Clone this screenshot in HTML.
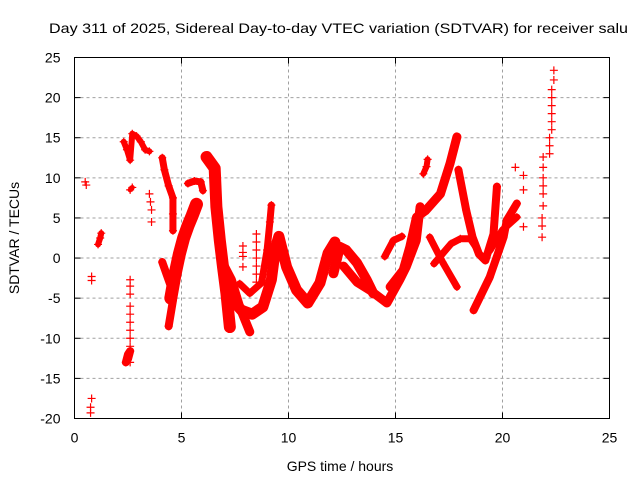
<!DOCTYPE html>
<html><head><meta charset="utf-8"><style>
body{margin:0;background:#fff}
svg{display:block;font-family:"Liberation Sans",sans-serif}
</style></head><body>
<svg id="chart" width="640" height="480" viewBox="0 0 640 480">
<rect width="640" height="480" fill="#fff"/>
<text x="49" y="33" font-size="14" textLength="579" lengthAdjust="spacingAndGlyphs" fill="#000">Day 311 of 2025, Sidereal Day-to-day VTEC variation (SDTVAR) for receiver salu</text>
<g id="grid"></g>
<g id="marks"></g>
<g id="axes"></g>
<text x="340" y="471" font-size="14" text-anchor="middle">GPS time / hours</text>
<text transform="translate(19,238) rotate(-90)" font-size="14" text-anchor="middle">SDTVAR / TECUs</text>
</svg>
<script>
const xTicks=[0,5,10,15,20,25];
const yTicks=[25,20,15,10,5,0,-5,-10,-15,-20];
// tracks: [hour, TECU]
const trkA=[[0.5,9.5],[0.55,9.1]];
const trkB=[[0.8,-2.3],[0.8,-2.8]];
const trkC=[[0.8,-17.5],[0.75,-18.6],[0.75,-19.3]];
const trkD=[[1.1,1.7],[1.2,2.5],[1.25,3.1]];
const trkE=[[2.4,-13],[2.5,-12],[2.6,-11.6],[2.5,-12.6]];
const trkF=[[2.6,-13],[2.6,-11],[2.6,-10],[2.6,-9],[2.6,-8],[2.6,-7],[2.6,-6],[2.6,-4.5],[2.6,-3.5],[2.6,-2.7]];
const trkG=[[2.3,14.5],[2.45,13.5],[2.6,12.2],[2.7,15.5],[2.9,15.2],[3.1,14.5],[3.3,13.5],[3.5,13.3]];
const trkH=[[2.6,8.5],[2.7,8.8]];
const trkI=[[3.5,8],[3.55,7],[3.6,6],[3.6,4.5]];
const trkJ=[[4.1,12.5],[4.2,11],[4.4,9],[4.6,7.5],[4.6,5.5],[4.6,3.4]];
const trkK=[[4.1,-0.5],[4.3,-2],[4.5,-3.5],[4.6,-5.3],[4.4,-8.5]];
const trkL=[[4.5,-5],[4.7,-2],[4.9,0.5],[5.1,2.5],[5.3,4],[5.5,5.3],[5.7,6.7]];
const trkM=[[5.3,9.3],[5.6,9.6],[5.9,9.5],[6.0,8.4]];
const trkN=[[6.17,12.6],[6.55,11.2],[6.63,6.4],[6.79,2.2],[6.94,-1.1],[7.1,-4.4],[7.26,-8.6]];
const trkO=[[7.0,-1],[7.33,-2.7],[7.72,-6.1],[8.19,-9.2]];
const trkP=[[7.3,-5],[7.8,-6.5],[8.3,-7],[8.8,-6.1],[9.2,-2.7],[9.4,1.4],[9.55,2.7],[9.91,-1.1],[10.38,-4],[10.9,-5.6],[11.47,-3.1],[11.85,0.6],[12.17,2]];
const trkQ=[[7.72,-3.2],[8.19,-4.4],[8.74,-3.1],[9.0,1],[9.13,4.5],[9.2,6.6]];
const trkR=[[8.5,-3],[8.5,-2],[8.5,-1],[8.5,0],[8.5,1],[8.5,2],[8.5,3]];
const trkS=[[7.87,1.5],[7.87,0.7],[7.87,0.2],[7.87,-1.1]];
const trkT=[[12.1,-1.9],[12.4,1.4],[12.7,1],[13.2,-0.6],[13.65,-2.7],[13.96,-4.4]];
const trkU=[[12.57,-1],[13.2,-3],[13.8,-4],[14.6,-5.6],[15.2,-2.7],[15.5,-1.1],[15.97,2.2],[16.15,6.4]];
const trkV=[[14.5,0.2],[14.9,2.2],[15.3,2.7]];
const trkW=[[14.75,-3.6],[15.36,-1.5],[15.67,1.4],[15.98,5.1],[16.4,5.9],[17.1,8],[17.55,11.8],[17.87,15.1]];
const trkX=[[16.3,10.5],[16.45,11.4],[16.5,12.3]];
const trkY=[[17.94,11],[18.3,6],[18.6,2.6],[18.9,0.5],[19.2,-0.3],[19.58,3],[19.74,8.9]];
const trkZ=[[16.6,2.6],[17.2,-0.5],[17.87,-3.6]];
const trkAA=[[16.8,-0.7],[17.6,1.8],[18.03,2.4],[18.5,2.4],[18.8,1.2]];
const trkAB=[[18.65,-6.5],[19.4,-2.4],[20.05,2.6],[20.2,4.7],[20.67,6.8]];
const trkAC=[[19.4,0.9],[20.0,3.5],[20.67,5.1]];
const trkAD=[[20.6,11.3],[20.98,10.3],[20.98,8.5],[20.98,3.9]];
const trkAE=[[21.85,2.6],[21.85,4],[21.85,5],[21.9,6.5],[21.9,8],[21.9,9],[21.9,10],[21.9,11.3],[21.9,12.6],[22.2,13],[22.2,14],[22.2,15],[22.3,16],[22.3,17],[22.3,18],[22.3,19],[22.3,20],[22.3,21],[22.4,22.2],[22.4,23.4]];
const tracks=[trkA,trkB,trkC,trkD,trkE,trkF,trkG,trkH,trkI,trkJ,trkK,trkL,trkM,trkN,trkO,trkP,trkQ,trkR,trkS,trkT,trkU,trkV,trkW,trkX,trkY,trkZ,trkAA,trkAB,trkAC,trkAD,trkAE];
const bandWidth=[0,0,0,6,8,0,6,5,0,7,8,13,7,12,9,11,7,0,0,10,9,7,9,6,8,7,7,8,7,0,0];

const L=74.5,R=609.5,T=57.5,B=418.5;
const X=h=>L+(h-0)/25*(R-L);
const Y=v=>T+(25-v)/45*(B-T);
const NS="http://www.w3.org/2000/svg";
function mk(tag,attrs,parent){const e=document.createElementNS(NS,tag);for(const k in attrs)e.setAttribute(k,attrs[k]);parent.appendChild(e);return e;}
const grid=document.getElementById('grid'),axes=document.getElementById('axes'),marks=document.getElementById('marks');
xTicks.forEach(t=>{
  if(t>0&&t<25){const g=mk('line',{x1:X(t),x2:X(t),y1:T,y2:B,stroke:'#a0a0a0','stroke-dasharray':'3,3'},grid);
  
  }
  const tk=mk('text',{x:X(t),y:B+24,'font-size':14,'text-anchor':'middle'},axes);tk.textContent=t;
  
  
  mk('line',{x1:X(t),x2:X(t),y1:B,y2:B-6,stroke:'#000'},axes);
  mk('line',{x1:X(t),x2:X(t),y1:T,y2:T+6,stroke:'#000'},axes);
});
yTicks.forEach(t=>{
  if(t>-20&&t<25){const g=mk('line',{x1:L,x2:R,y1:Y(t),y2:Y(t),stroke:'#a0a0a0','stroke-dasharray':'3,3'},grid);
  
  }
  const tk=mk('text',{x:L-14,y:Y(t)+5,'font-size':14,'text-anchor':'end'},axes);tk.textContent=t;
  
  
  mk('line',{x1:L,x2:L+6,y1:Y(t),y2:Y(t),stroke:'#000'},axes);
  mk('line',{x1:R,x2:R-6,y1:Y(t),y2:Y(t),stroke:'#000'},axes);
});
const fr=mk('rect',{x:L,y:T,width:R-L,height:B-T,fill:'none',stroke:'#000'},axes);


tracks.forEach((tr,i)=>{
  const g=mk('g',{},marks);
  
  
  if(bandWidth[i]>0&&tr.length>1){
    mk('polyline',{points:tr.map(p=>X(p[0])+','+Y(p[1])).join(' '),fill:'none',stroke:'#ff0000','stroke-width':bandWidth[i],'stroke-linejoin':'round','stroke-linecap':'round'},g);
  }
  tr.forEach(p=>{
    const x=X(p[0]),y=Y(p[1]);
    const m=mk('path',{d:`M${x-4},${y}H${x+4}M${x},${y-4}V${y+4}`,stroke:'#ff0000','stroke-width':1.2},g);
    
    
  });
});
</script>
</body></html>
